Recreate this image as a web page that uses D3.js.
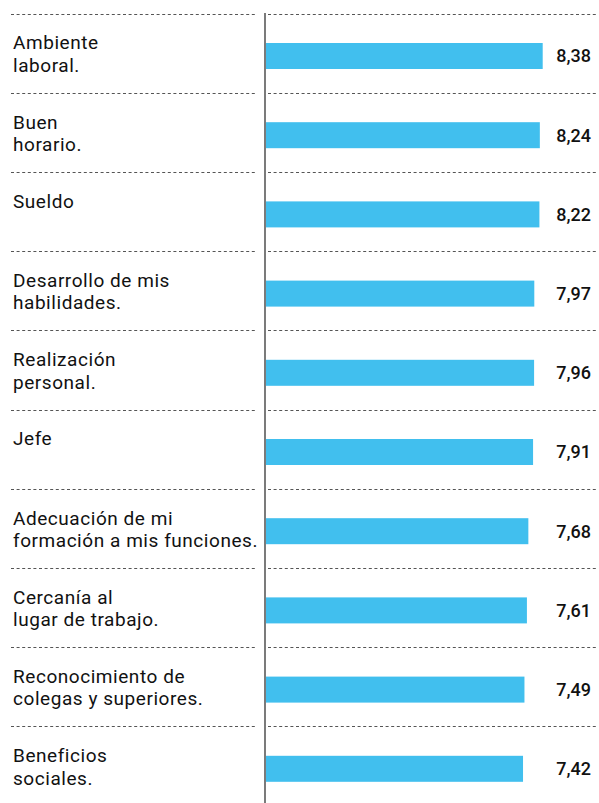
<!DOCTYPE html>
<html>
<head>
<meta charset="utf-8">
<script src="https://cdn.jsdelivr.net/npm/d3@7"></script>
<style>
  html, body { margin: 0; padding: 0; background: #fff; }
  svg { display: block; }
</style>
</head>
<body>
<script>
const categories = [
  ["Ambiente", "laboral."],
  ["Buen", "horario."],
  ["Sueldo"],
  ["Desarrollo de mis", "habilidades."],
  ["Realización", "personal."],
  ["Jefe"],
  ["Adecuación de mi", "formación a mis funciones."],
  ["Cercanía al", "lugar de trabajo."],
  ["Reconocimiento de", "colegas y superiores."],
  ["Beneficios", "sociales."]
];
const values = [8.38, 8.24, 8.22, 7.97, 7.96, 7.91, 7.68, 7.61, 7.49, 7.42];
const valueLabels = ["8,38", "8,24", "8,22", "7,97", "7,96", "7,91", "7,68", "7,61", "7,49", "7,42"];

const W = 599, H = 803;
const svg = d3.select("body").append("svg").attr("width", W).attr("height", H);

const ids = d3.range(categories.length);
const y = d3.scaleBand().domain(ids).range([13.5, 13.5 + 79.2 * categories.length]).padding(0);
const x = d3.scaleLinear().domain([-5.12, 8.38]).range([266, 542.7]);

const font = "Roboto, 'DejaVu Sans', sans-serif";

// dotted separators
const sep = svg.append("g");
ids.forEach(i => {
  const yy = Math.round(y(i)) + 0.5;
  sep.append("line").attr("x1", 11).attr("x2", 257).attr("y1", yy).attr("y2", yy)
    .attr("stroke", "#555").attr("stroke-width", 1).attr("stroke-dasharray", "3,2.6");
  sep.append("line").attr("x1", 268).attr("x2", 598).attr("y1", yy).attr("y2", yy)
    .attr("stroke", "#555").attr("stroke-width", 1).attr("stroke-dasharray", "3,2.6");
});

// bars
svg.append("g").selectAll("rect").data(ids).join("rect")
  .attr("x", x(x.domain()[0]))
  .attr("y", i => y(i) + 29.5)
  .attr("width", i => x(values[i]) - x(x.domain()[0]))
  .attr("height", 26)
  .attr("fill", "#41bfee");

// vertical axis line
svg.append("line").attr("x1", 265).attr("x2", 265).attr("y1", 13).attr("y2", H)
  .attr("stroke", "#222").attr("stroke-width", 1.2);

// category labels
const lab = svg.append("g").attr("font-family", font).attr("font-size", 19)
  .attr("fill", "#111").attr("letter-spacing", 0.55);
ids.forEach(i => {
  const t = lab.append("text").attr("x", 13).attr("y", y(i) + 35.8);
  categories[i].forEach((line, k) => {
    t.append("tspan").attr("x", 13).attr("dy", k === 0 ? 0 : 22.4).text(line);
  });
});

// value labels
svg.append("g").attr("font-family", font).attr("font-size", 18).attr("font-weight", 500)
  .attr("fill", "#111").attr("text-anchor", "end")
  .selectAll("text").data(ids).join("text")
  .attr("x", 591)
  .attr("y", i => y(i) + 29.5 + 13 + 6.4)
  .text(i => valueLabels[i]);
</script>
</body>
</html>
